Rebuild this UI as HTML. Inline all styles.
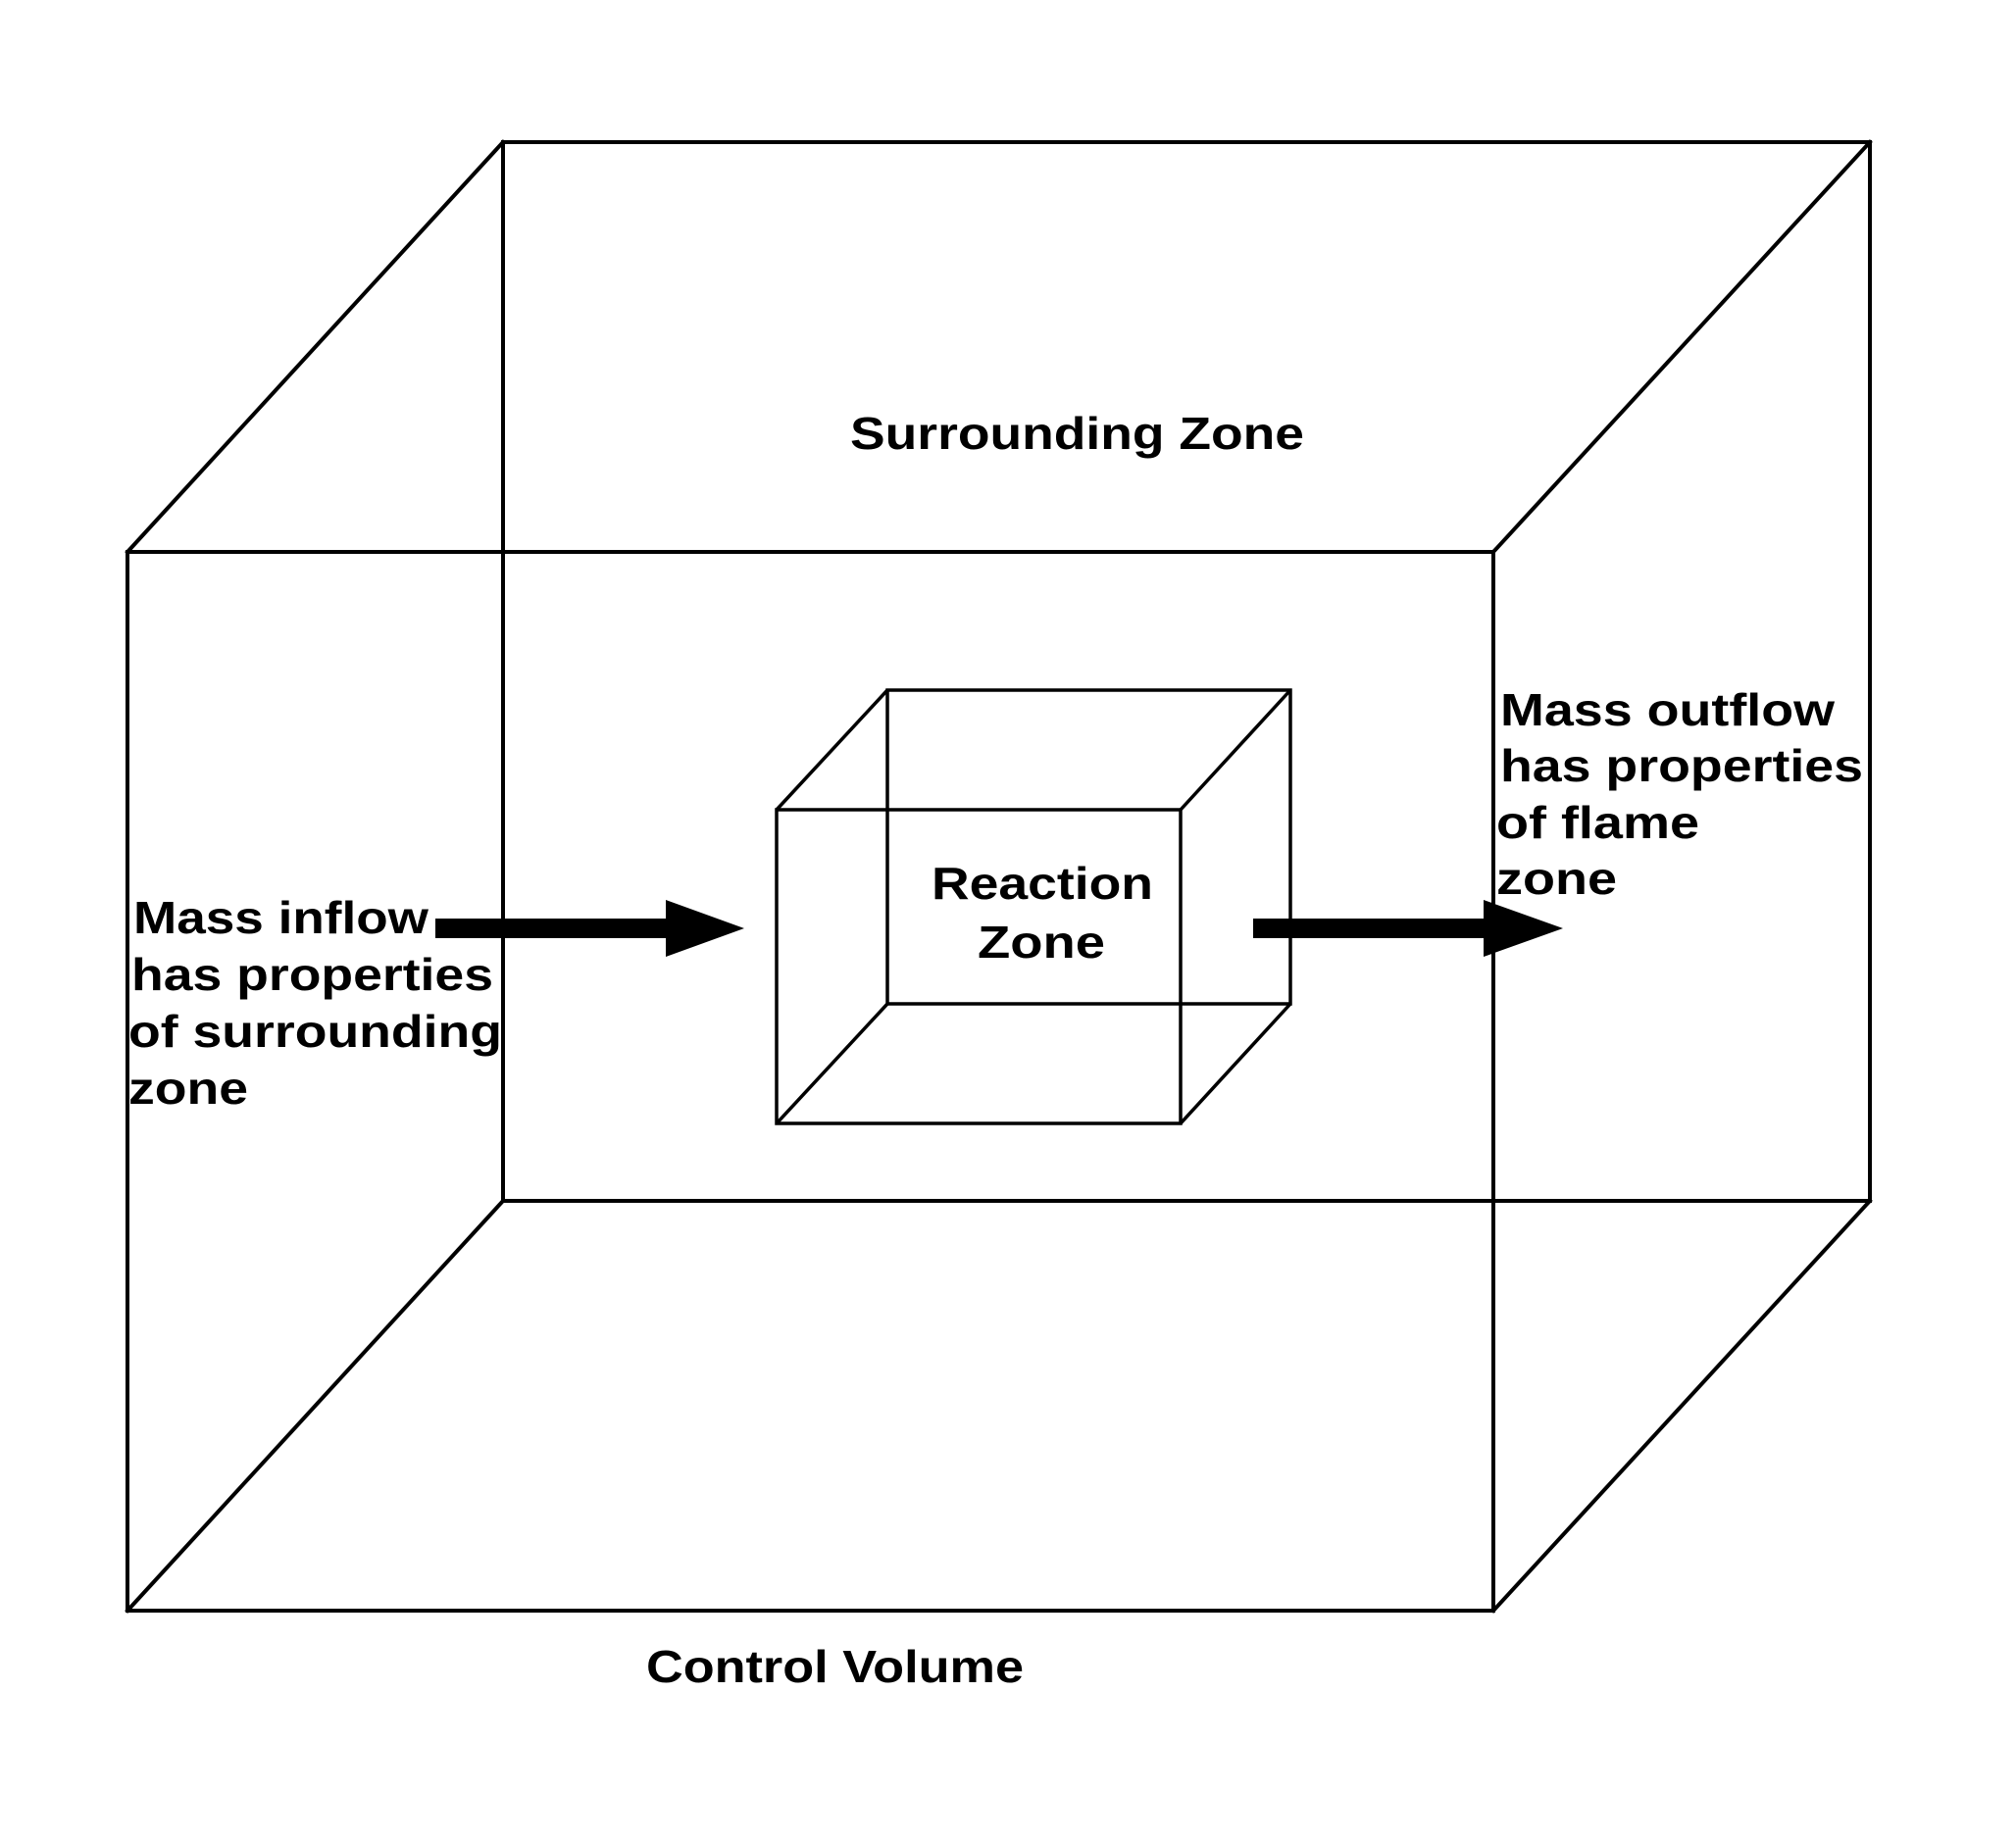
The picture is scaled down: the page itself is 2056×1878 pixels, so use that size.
<!DOCTYPE html>
<html>
<head>
<meta charset="utf-8">
<style>
html,body{margin:0;padding:0;background:#fff;}
svg{display:block;}
text{font-family:"Liberation Sans",Arial,sans-serif;font-weight:bold;font-size:46px;fill:#000;}
</style>
</head>
<body>
<svg width="2056" height="1878" viewBox="0 0 2056 1878" xmlns="http://www.w3.org/2000/svg">
  <rect width="2056" height="1878" fill="#fff"/>
  <g stroke="#000" stroke-width="4" fill="none" stroke-linecap="square">
    <!-- outer back face -->
    <rect x="513" y="145" width="1394" height="1080"/>
    <!-- outer front face -->
    <rect x="130" y="563" width="1393" height="1080"/>
    <!-- connectors -->
    <line x1="130" y1="563" x2="513" y2="145"/>
    <line x1="1523" y1="563" x2="1907" y2="145"/>
    <line x1="130" y1="1643" x2="513" y2="1225"/>
    <line x1="1523" y1="1643" x2="1907" y2="1225"/>
  </g>
  <g stroke="#000" stroke-width="3.5" fill="none">
    <!-- inner back -->
    <rect x="905" y="704" width="411" height="320"/>
    <!-- inner front -->
    <rect x="792" y="826" width="412" height="320"/>
    <line x1="792" y1="826" x2="905" y2="704"/>
    <line x1="1204" y1="826" x2="1316" y2="704"/>
    <line x1="792" y1="1146" x2="905" y2="1024"/>
    <line x1="1204" y1="1146" x2="1316" y2="1024"/>
  </g>
  <!-- arrows -->
  <rect x="444" y="937" width="240" height="20" fill="#000"/>
  <polygon points="679,918 759,947 679,976" fill="#000"/>
  <rect x="1278" y="937" width="240" height="20" fill="#000"/>
  <polygon points="1513,918 1594,947 1513,976" fill="#000"/>

  <!-- labels -->
  <text x="867" y="458" textLength="463" lengthAdjust="spacingAndGlyphs">Surrounding Zone</text>
  <text x="950" y="917" textLength="226" lengthAdjust="spacingAndGlyphs">Reaction</text>
  <text x="997" y="977" textLength="130" lengthAdjust="spacingAndGlyphs">Zone</text>

  <text x="136" y="952" textLength="301" lengthAdjust="spacingAndGlyphs">Mass inflow</text>
  <text x="134" y="1010" textLength="369" lengthAdjust="spacingAndGlyphs">has properties</text>
  <text x="131" y="1068" textLength="381" lengthAdjust="spacingAndGlyphs">of surrounding</text>
  <text x="131" y="1126" textLength="122" lengthAdjust="spacingAndGlyphs">zone</text>

  <text x="1530" y="740" textLength="341" lengthAdjust="spacingAndGlyphs">Mass outflow</text>
  <text x="1530" y="797" textLength="370" lengthAdjust="spacingAndGlyphs">has properties</text>
  <text x="1526" y="855" textLength="207" lengthAdjust="spacingAndGlyphs">of flame</text>
  <text x="1526" y="912" textLength="123" lengthAdjust="spacingAndGlyphs">zone</text>

  <text x="659" y="1716" textLength="385" lengthAdjust="spacingAndGlyphs">Control Volume</text>
</svg>
</body>
</html>
